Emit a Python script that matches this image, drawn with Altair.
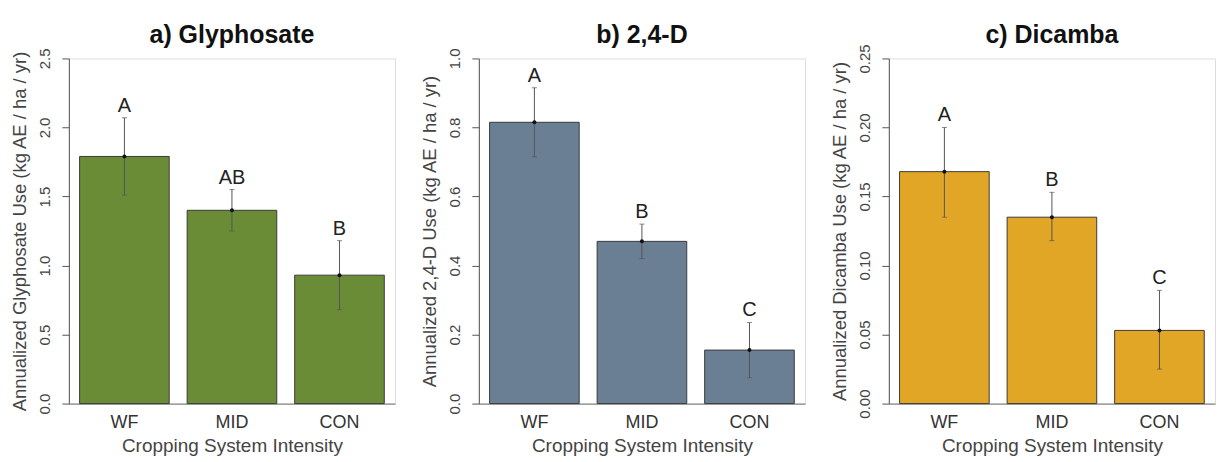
import altair as alt
import pandas as pd

categories = ["WF", "MID", "CON"]

gly_mean = [1.79, 1.40, 0.93]
gly_lo = [1.51, 1.25, 0.68]
gly_hi = [2.07, 1.55, 1.18]
gly_letters = ["A", "AB", "B"]

d24_mean = [0.815, 0.47, 0.155]
d24_lo = [0.715, 0.42, 0.075]
d24_hi = [0.915, 0.52, 0.235]
d24_letters = ["A", "B", "C"]

dic_mean = [0.168, 0.135, 0.053]
dic_lo = [0.135, 0.118, 0.025]
dic_hi = [0.200, 0.153, 0.082]
dic_letters = ["A", "B", "C"]

FONT = "Liberation Sans"


def panel(title, ytitle, mean, lo, hi, letters, color, ymax, yticks, fmt, toff):
    df = pd.DataFrame({"cat": categories, "mean": mean, "lo": lo, "hi": hi, "lab": letters})
    xenc = alt.X(
        "cat:N",
        sort=categories,
        scale=alt.Scale(paddingInner=0.1667, paddingOuter=0.1),
        axis=alt.Axis(
            title="Cropping System Intensity",
            labelAngle=0,
            ticks=False,
            tickSize=0,
            domain=True,
            domainColor="#888888",
            domainWidth=1.2,
            labelFont=FONT,
            labelFontSize=18,
            labelColor="#333333",
            labelPadding=10,
            titleFont=FONT,
            titleFontSize=19,
            titleFontWeight="normal",
            titleColor="#444444",
            titlePadding=5,
        ),
    )
    yscale = alt.Scale(domain=[0, ymax], nice=False, zero=True)
    base = alt.Chart(df)
    bars = base.mark_bar(color=color, stroke="#3a3a3a", strokeWidth=1).encode(
        x=xenc,
        y=alt.Y(
            "mean:Q",
            scale=yscale,
            axis=alt.Axis(
                title=ytitle,
                values=yticks,
                format=fmt,
                grid=False,
                labelAngle=-90,
                labelAlign="center",
                labelBaseline="bottom",
                labelFont=FONT,
                labelFontSize=15,
                labelColor="#444444",
                labelPadding=9,
                tickSize=7,
                tickColor="#555555",
                domainColor="#555555",
                titleFont=FONT,
                titleFontSize=18.5,
                titleFontWeight="normal",
                titleColor="#444444",
                titlePadding=8,
            ),
        ),
    )
    rule = base.mark_rule(color="#555555", strokeWidth=1).encode(
        x=alt.X("cat:N", sort=categories), y=alt.Y("lo:Q"), y2="hi:Q"
    )
    cap_hi = base.mark_tick(color="#555555", thickness=1, size=5).encode(
        x=alt.X("cat:N", sort=categories), y=alt.Y("hi:Q")
    )
    cap_lo = base.mark_tick(color="#555555", thickness=1, size=5).encode(
        x=alt.X("cat:N", sort=categories), y=alt.Y("lo:Q")
    )
    dots = base.mark_circle(color="#111111", size=16, opacity=1).encode(
        x=alt.X("cat:N", sort=categories), y=alt.Y("mean:Q")
    )
    text = base.mark_text(
        baseline="bottom", dy=-2, fontSize=20, font=FONT, color="#222222"
    ).encode(x=alt.X("cat:N", sort=categories), y=alt.Y("hi:Q"), text="lab:N")
    return alt.layer(bars, rule, cap_hi, cap_lo, dots, text).properties(
        width=327,
        height=346,
        title=alt.TitleParams(
            title,
            font=FONT,
            fontSize=25,
            fontWeight="bold",
            color="#111111",
            anchor="middle",
            frame="group",
            offset=toff,
        ),
    )


pa = panel("a) Glyphosate", "Annualized Glyphosate Use (kg AE / ha / yr)",
           gly_mean, gly_lo, gly_hi, gly_letters, "#6a8c37", 2.5,
           [0, 0.5, 1.0, 1.5, 2.0, 2.5], ".1f", 0)
pb = panel("b) 2,4-D", "Annualized 2,4-D Use (kg AE / ha / yr)",
           d24_mean, d24_lo, d24_hi, d24_letters, "#6a7f94", 1.0,
           [0, 0.2, 0.4, 0.6, 0.8, 1.0], ".1f", 0)
pc = panel("c) Dicamba", "Annualized Dicamba Use (kg AE / ha / yr)",
           dic_mean, dic_lo, dic_hi, dic_letters, "#e1a626", 0.25,
           [0, 0.05, 0.10, 0.15, 0.20, 0.25], ".2f", -4)

chart = (
    alt.hconcat(pa, pb, pc, spacing=84, bounds="flush")
    .resolve_scale(y="independent")
    .properties(padding={"left": 2, "top": 13, "right": 5, "bottom": 2})
    .configure_view(stroke=None)
    .configure(background="white")
)

chart.save("out.html", embed_options={"renderer": "svg", "actions": False})
